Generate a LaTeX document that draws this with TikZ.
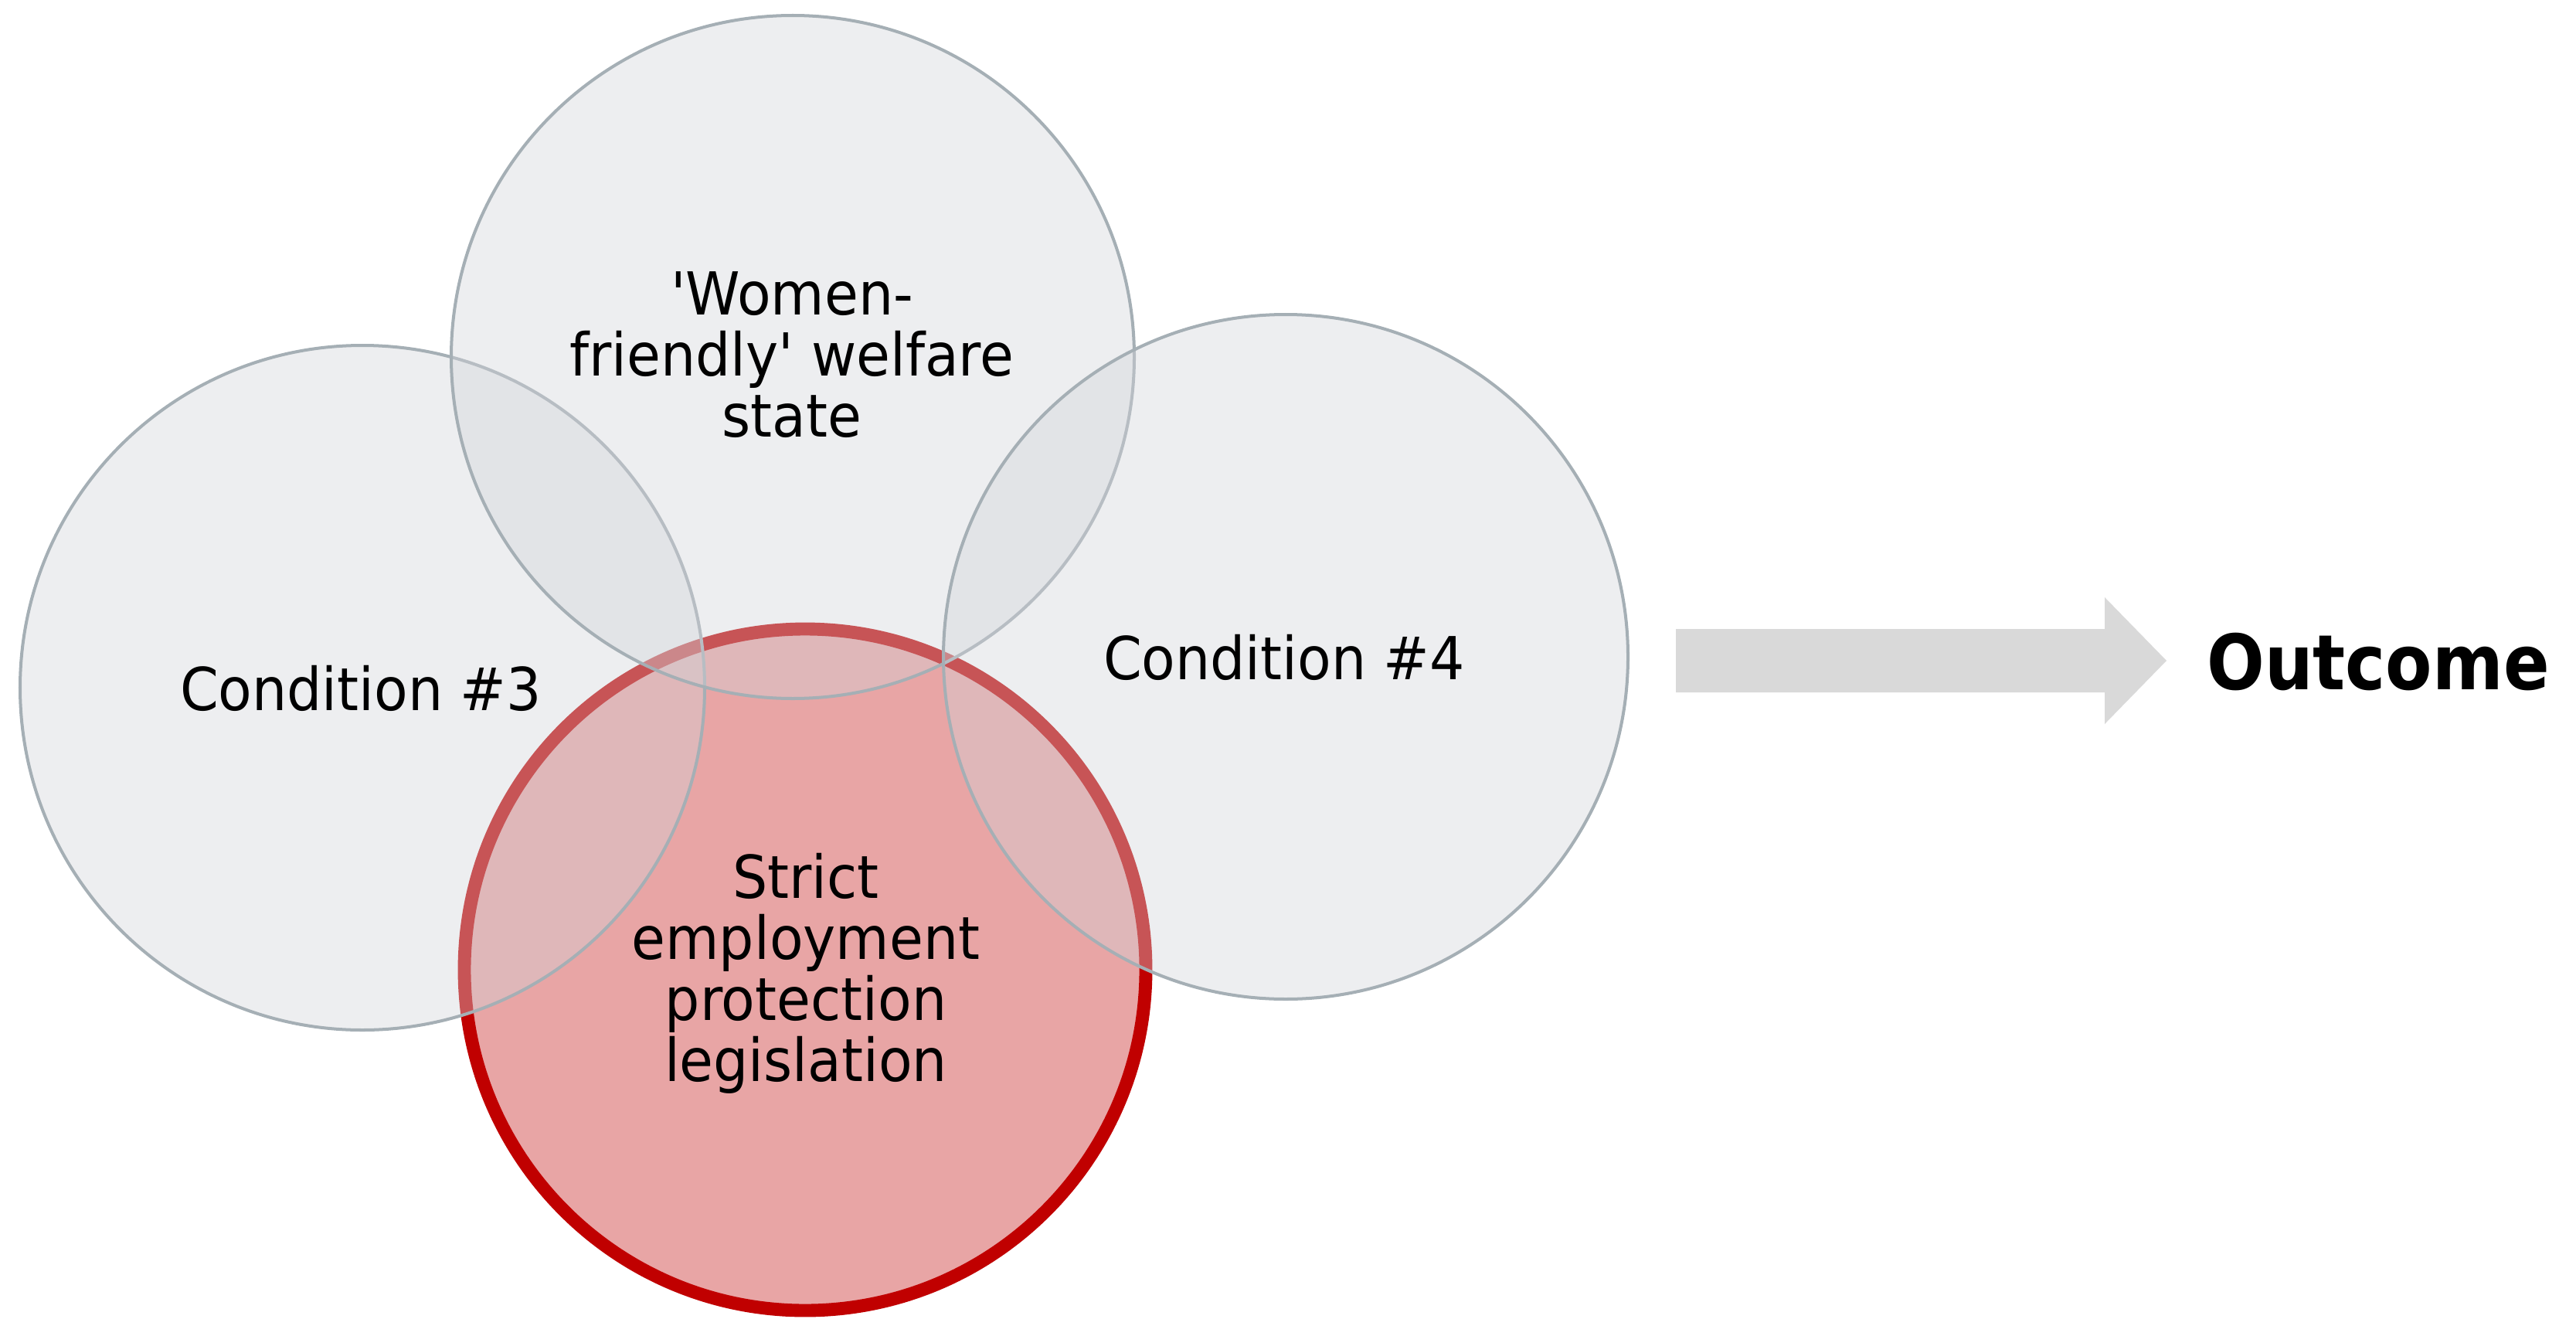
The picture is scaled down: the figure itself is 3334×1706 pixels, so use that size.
\documentclass[tikz,border=0pt]{standalone}
\usepackage{fontspec}
\newfontfamily\lab{DejaVu Sans}[FakeStretch=0.93]
\newfontfamily\outfont{DejaVu Sans}[FakeStretch=0.89]
\definecolor{gfill}{RGB}{210,212,217}
\definecolor{gline}{RGB}{165,175,181}
\definecolor{rfill}{RGB}{232,165,165}
\definecolor{rline}{RGB}{192,0,0}
\definecolor{arrowgrey}{RGB}{217,217,217}
\begin{document}
\begin{tikzpicture}[x=0.01cm,y=-0.01cm,
  venn/.style={fill=gfill, fill opacity=0.4, draw=gline, draw opacity=1, line width=1.14pt},
  redset/.style={fill=rfill, draw=rline, line width=4.8pt},
  lbl/.style={inner sep=0pt, align=center, text=black, font=\lab\fontsize{21.8pt}{22.5pt}\selectfont},
  outlbl/.style={inner sep=0pt, text=black, font=\outfont\bfseries\fontsize{28.1pt}{30pt}\selectfont}
]
\useasboundingbox (0,0) rectangle (3334,1706);
% sets
\path[redset] (1042,1255) circle (441);
\path[venn] (469,890) circle (443);
\path[venn] (1026,462) circle (442);
\path[venn] (1664,850) circle (443);
% block arrow
\fill[arrowgrey] (2169,814) -- (2724,814) -- (2724,773) -- (2804,855)
  -- (2724,937) -- (2724,896) -- (2169,896) -- cycle;
% labels
\node[lbl] (welfare) at (1025,459) {'Women-\\friendly' welfare\\state};
\node[lbl, anchor=base] (c3) at (467,919) {Condition \#3};
\node[lbl, anchor=base] (c4) at (1662,879) {Condition \#4};
\node[lbl] (epl) at (1043,1260) {Strict\\employment\\protection\\legislation};
\node[outlbl, anchor=base] (out) at (3078,892) {Outcome};
\end{tikzpicture}
\end{document}
